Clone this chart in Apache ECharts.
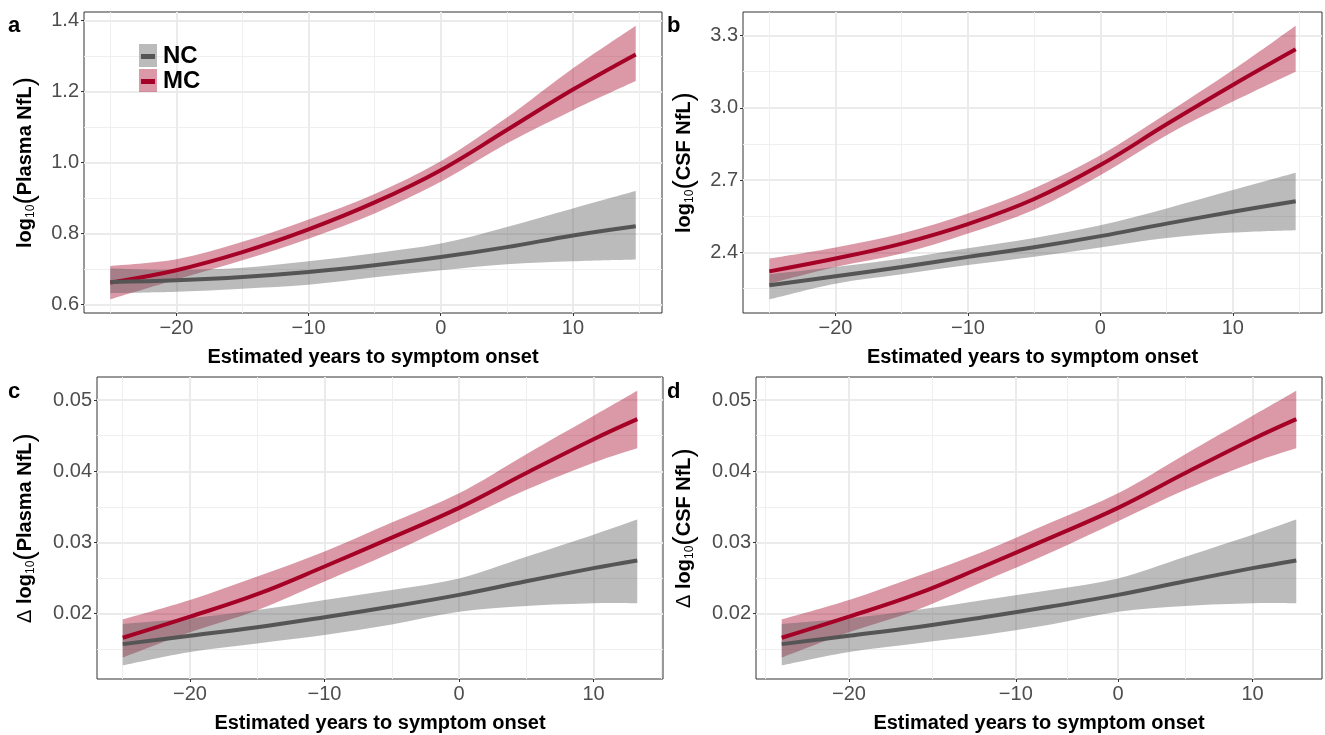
<!DOCTYPE html>
<html>
<head>
<meta charset="utf-8">
<script src="https://cdn.jsdelivr.net/npm/echarts@6/dist/echarts.min.js"></script>
<style>
  html, body { margin: 0; padding: 0; background: #fff; }
  #main { width: 1325px; height: 735px; }
</style>
</head>
<body>
<div id="main"></div>
<script>
var years = [-25, -20, -15, -10, -5, 0, 5, 10, 14.75];
var yearsCD = [-25, -20, -15, -10, -5, 0, 5, 10, 13.25];

// a: log10(Plasma NfL)
var aMC     = [0.662, 0.697, 0.748, 0.812, 0.888, 0.979, 1.092, 1.206, 1.305];
var aMCLow  = [0.615, 0.671, 0.725, 0.786, 0.857, 0.946, 1.054, 1.148, 1.230];
var aMCHigh = [0.709, 0.728, 0.777, 0.840, 0.912, 1.004, 1.127, 1.266, 1.386];
var aNC     = [0.664, 0.669, 0.678, 0.692, 0.711, 0.734, 0.762, 0.795, 0.821];
var aNCLow  = [0.632, 0.636, 0.645, 0.656, 0.677, 0.697, 0.714, 0.722, 0.727];
var aNCHigh = [0.702, 0.698, 0.704, 0.722, 0.745, 0.772, 0.819, 0.871, 0.920];

// b: log10(CSF NfL)
var bMC     = [2.322, 2.375, 2.437, 2.518, 2.622, 2.763, 2.932, 3.095, 3.243];
var bMCLow  = [2.271, 2.340, 2.396, 2.479, 2.578, 2.721, 2.887, 3.026, 3.150];
var bMCHigh = [2.375, 2.421, 2.479, 2.562, 2.667, 2.804, 2.977, 3.157, 3.341];
var bNC     = [2.264, 2.302, 2.340, 2.382, 2.422, 2.468, 2.520, 2.569, 2.613];
var bNCLow  = [2.206, 2.271, 2.310, 2.348, 2.383, 2.421, 2.460, 2.483, 2.493];
var bNCHigh = [2.310, 2.340, 2.375, 2.418, 2.460, 2.513, 2.583, 2.659, 2.731];

// c: delta log10(Plasma NfL)
var cMC     = [0.01662, 0.01958, 0.02274, 0.02663, 0.03068, 0.03486, 0.03975, 0.04450, 0.04732];
var cMCLow  = [0.01385, 0.01740, 0.02050, 0.02451, 0.02858, 0.03298, 0.03740, 0.04121, 0.04323];
var cMCHigh = [0.01921, 0.02193, 0.02522, 0.02875, 0.03280, 0.03690, 0.04240, 0.04779, 0.05131];
var cNC     = [0.01573, 0.01690, 0.01810, 0.01950, 0.02100, 0.02264, 0.02455, 0.02640, 0.02748];
var cNCLow  = [0.01276, 0.01464, 0.01583, 0.01700, 0.01850, 0.02028, 0.02110, 0.02147, 0.02147];
var cNCHigh = [0.01855, 0.01935, 0.02052, 0.02193, 0.02334, 0.02495, 0.02800, 0.03110, 0.03322];

// d: delta log10(CSF NfL) -- the drawn curves coincide with panel c
var dMC     = [0.01662, 0.01958, 0.02274, 0.02663, 0.03068, 0.03486, 0.03975, 0.04450, 0.04732];
var dMCLow  = [0.01385, 0.01740, 0.02050, 0.02451, 0.02858, 0.03298, 0.03740, 0.04121, 0.04323];
var dMCHigh = [0.01921, 0.02193, 0.02522, 0.02875, 0.03280, 0.03690, 0.04240, 0.04779, 0.05131];
var dNC     = [0.01573, 0.01690, 0.01810, 0.01950, 0.02100, 0.02264, 0.02455, 0.02640, 0.02748];
var dNCLow  = [0.01276, 0.01464, 0.01583, 0.01700, 0.01850, 0.02028, 0.02110, 0.02147, 0.02147];
var dNCHigh = [0.01855, 0.01935, 0.02052, 0.02193, 0.02334, 0.02495, 0.02800, 0.03110, 0.03322];

// ticks
var xMajor = [-20, -10, 0, 10];
var xMinor = [-25, -15, -5, 5, 15];
var aYMajor = [0.6, 0.8, 1.0, 1.2, 1.4];
var aYMinor = [0.7, 0.9, 1.1, 1.3];
var bYMajor = [2.4, 2.7, 3.0, 3.3];
var bYMinor = [2.25, 2.55, 2.85, 3.15];
var cdYMajor = [0.02, 0.03, 0.04, 0.05];
var cdYMinor = [0.015, 0.025, 0.035, 0.045];
// panel d's x axis is drawn unevenly in the original
var dXMajor = [-20, -7.6, 0, 10];
var dXLabels = ['−20', '−10', '0', '10'];
var dXMinor = [-26.2, -13.8, -3.8, 5];

var FONT = '"Liberation Sans", Arial, Helvetica, sans-serif';
var RED = '#A50026', GREY = '#555555';
var RED_FILL = 'rgba(165,0,38,0.4)', GREY_FILL = 'rgba(85,85,85,0.4)';

function minusFmt(v) { return v < 0 ? '−' + Math.abs(v) : String(v); }
function dFmt(v) {
  for (var i = 0; i < dXMajor.length; i++) if (Math.abs(v - dXMajor[i]) < 1e-6) return dXLabels[i];
  return '';
}
function expand(lo, hi) { var r = hi - lo; return [lo - 0.05 * r, hi + 0.05 * r]; }

// catmull-rom through pixel points, as bezier path segments
function curveThrough(pts) {
  var d = '';
  for (var i = 0; i < pts.length - 1; i++) {
    var p0 = pts[i - 1] || pts[i], p1 = pts[i], p2 = pts[i + 1], p3 = pts[i + 2] || pts[i + 1];
    var c1x = p1[0] + (p2[0] - p0[0]) / 6, c1y = p1[1] + (p2[1] - p0[1]) / 6;
    var c2x = p2[0] - (p3[0] - p1[0]) / 6, c2y = p2[1] - (p3[1] - p1[1]) / 6;
    d += ' C ' + c1x + ' ' + c1y + ' ' + c2x + ' ' + c2y + ' ' + p2[0] + ' ' + p2[1];
  }
  return d;
}

var titleRich = {
  b: { fontSize: 20, fontWeight: 'bold', color: '#000', fontFamily: FONT, lineHeight: 30 },
  n: { fontSize: 20, fontWeight: 'normal', color: '#000', fontFamily: FONT, lineHeight: 30 },
  s: { fontSize: 12, fontWeight: 'normal', color: '#000', fontFamily: FONT, lineHeight: 30, padding: [12, 0, 0, 0] },
  p: { fontSize: 28, fontWeight: 'normal', color: '#000', fontFamily: FONT, lineHeight: 30 }
};

var panels = [
  { tag: 'a', box: [84, 12, 578, 301], xs: years, mc: [aMC, aMCLow, aMCHigh], nc: [aNC, aNCLow, aNCHigh],
    yMajor: aYMajor, yMinor: aYMinor, digits: 1, yGap: 44,
    yName: '{b|log}{s|10}{p|(}{b|Plasma NfL}{p|)}', xMajor: xMajor, xMinor: xMinor, xFmt: minusFmt },
  { tag: 'b', box: [743, 12, 579, 301], xs: years, mc: [bMC, bMCLow, bMCHigh], nc: [bNC, bNCLow, bNCHigh],
    yMajor: bYMajor, yMinor: bYMinor, digits: 1, yGap: 44,
    yName: '{b|log}{s|10}{p|(}{b|CSF NfL}{p|)}', xMajor: xMajor, xMinor: xMinor, xFmt: minusFmt },
  { tag: 'c', box: [97, 377, 566, 302], xs: yearsCD, mc: [cMC, cMCLow, cMCHigh], nc: [cNC, cNCLow, cNCHigh],
    yMajor: cdYMajor, yMinor: cdYMinor, digits: 2, yGap: 57,
    yName: '{n|Δ }{b|log}{s|10}{p|(}{b|Plasma NfL}{p|)}', xMajor: xMajor, xMinor: xMinor, xFmt: minusFmt },
  { tag: 'd', box: [756, 377, 566, 302], xs: yearsCD, mc: [dMC, dMCLow, dMCHigh], nc: [dNC, dNCLow, dNCHigh],
    yMajor: cdYMajor, yMinor: cdYMinor, digits: 2, yGap: 57,
    yName: '{n|Δ }{b|log}{s|10}{p|(}{b|CSF NfL}{p|)}', xMajor: dXMajor, xMinor: dXMinor, xFmt: dFmt }
];

var grids = [], xAxes = [], yAxes = [], series = [], graphics = [];

function band(ax, xs, lo, hi, name, fill) {
  var rows = xs.map(function (x, j) { return [x, lo[j], hi[j]]; });
  return {
    type: 'custom', name: name, xAxisIndex: ax, yAxisIndex: ax, data: rows,
    encode: { x: 0, y: [1, 2] }, clip: true, silent: true,
    itemStyle: { color: fill },
    renderItem: function (params, api) {
      if (params.dataIndex !== 0) return null;
      var top = rows.map(function (r) { return api.coord([r[0], r[2]]); });
      var bot = rows.map(function (r) { return api.coord([r[0], r[1]]); }).reverse();
      var d = 'M ' + top[0][0] + ' ' + top[0][1] + curveThrough(top) +
              ' L ' + bot[0][0] + ' ' + bot[0][1] + curveThrough(bot) + ' Z';
      return { type: 'path', shape: { pathData: d }, style: { fill: fill, stroke: null } };
    }
  };
}
function meanLine(ax, xs, ys, name, color) {
  return { type: 'line', name: name, xAxisIndex: ax, yAxisIndex: ax,
    data: xs.map(function (x, j) { return [x, ys[j]]; }),
    smooth: 0.4, symbol: 'none', silent: true,
    lineStyle: { color: color, width: 4 }, itemStyle: { color: color } };
}

panels.forEach(function (p, i) {
  var xExt = expand(p.xs[0], p.xs[p.xs.length - 1]);
  var yExt = expand(Math.min.apply(null, p.mc[1].concat(p.nc[1])), Math.max.apply(null, p.mc[2].concat(p.nc[2])));
  grids.push({ left: p.box[0], top: p.box[1], width: p.box[2], height: p.box[3],
    show: true, borderColor: '#333333', borderWidth: 1, outerBoundsMode: 'none' });

  xAxes.push({
    type: 'value', gridIndex: i, position: 'bottom', min: xExt[0], max: xExt[1],
    name: 'Estimated years to symptom onset', nameLocation: 'middle', nameGap: 34,
    nameTextStyle: { fontSize: 20, fontWeight: 'bold', color: '#000', fontFamily: FONT },
    axisLine: { show: false, onZero: false },
    axisTick: { show: true, length: 3, customValues: p.xMajor, lineStyle: { color: '#333', width: 1 } },
    axisLabel: { customValues: p.xMajor, formatter: p.xFmt, margin: 5, fontSize: 20, color: '#4D4D4D', fontFamily: FONT },
    splitLine: { show: true, lineStyle: { color: '#EBEBEB', width: 2 } }
  }, {
    type: 'value', gridIndex: i, position: 'top', min: xExt[0], max: xExt[1],
    axisLine: { show: false, onZero: false }, axisLabel: { show: false },
    axisTick: { show: false, customValues: p.xMinor },
    splitLine: { show: true, lineStyle: { color: '#EFEFEF', width: 1 } }
  });

  yAxes.push({
    type: 'value', gridIndex: i, position: 'left', min: yExt[0], max: yExt[1],
    name: p.yName, nameLocation: 'middle', nameRotate: 90, nameGap: p.yGap,
    nameTextStyle: { rich: titleRich },
    axisLine: { show: false, onZero: false },
    axisTick: { show: true, length: 3, customValues: p.yMajor, lineStyle: { color: '#333', width: 1 } },
    axisLabel: { customValues: p.yMajor, margin: 5, fontSize: 20, color: '#4D4D4D', fontFamily: FONT,
      formatter: (function (d) { return function (v) { return v.toFixed(d); }; })(p.digits) },
    splitLine: { show: true, lineStyle: { color: '#EBEBEB', width: 2 } }
  }, {
    type: 'value', gridIndex: i, position: 'right', min: yExt[0], max: yExt[1],
    axisLine: { show: false, onZero: false }, axisLabel: { show: false },
    axisTick: { show: false, customValues: p.yMinor },
    splitLine: { show: true, lineStyle: { color: '#EFEFEF', width: 1 } }
  });

  var ax = 2 * i;
  series.push(band(ax, p.xs, p.mc[1], p.mc[2], 'MC ribbon', RED_FILL));
  series.push(meanLine(ax, p.xs, p.mc[0], 'MC', RED));
  series.push(band(ax, p.xs, p.nc[1], p.nc[2], 'NC ribbon', GREY_FILL));
  series.push(meanLine(ax, p.xs, p.nc[0], 'NC', GREY));

  graphics.push({ type: 'text', x: p.box[0] < 400 ? 8 : 667, y: p.box[1] + (i < 2 ? 14 : 15),
    style: { text: p.tag, fontSize: 22, fontWeight: 'bold', fontFamily: FONT, fill: '#000', verticalAlign: 'middle' } });
});

var chart = echarts.init(document.getElementById('main'));
chart.setOption({
  animation: false,
  backgroundColor: '#fff',
  grid: grids,
  xAxis: xAxes,
  yAxis: yAxes,
  legend: [{
    left: 139, top: 44, orient: 'vertical', padding: 0, itemGap: 2, itemWidth: 18, itemHeight: 23,
    selectedMode: false, formatter: function () { return ''; },
    textStyle: { fontSize: 1 },
    data: [
      { name: 'NC ribbon', icon: 'rect', itemStyle: { color: GREY_FILL, borderWidth: 0 } },
      { name: 'MC ribbon', icon: 'rect', itemStyle: { color: RED_FILL, borderWidth: 0 } }
    ]
  }, {
    left: 141, top: 44, orient: 'vertical', padding: 0, itemGap: 0, itemWidth: 14, itemHeight: 5,
    selectedMode: false,
    textStyle: { fontSize: 24, fontWeight: 'bold', color: '#000', fontFamily: FONT, lineHeight: 25, padding: [0, 0, 0, 3] },
    data: [
      { name: 'NC', icon: 'rect', itemStyle: { color: GREY, borderWidth: 0 } },
      { name: 'MC', icon: 'rect', itemStyle: { color: RED, borderWidth: 0 } }
    ]
  }],
  graphic: graphics,
  series: series
});
</script>
</body>
</html>
